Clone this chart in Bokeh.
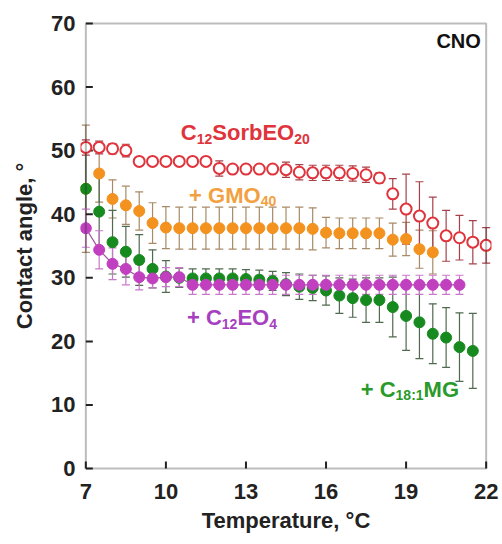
import math
from bokeh.plotting import figure
from bokeh.models import (Range1d, FixedTicker, ColumnDataSource, Whisker, TeeHead, Label,
                          BoxAnnotation)
from bokeh.embed import file_html
from bokeh.resources import INLINE

# ---------------- data ----------------
x_ticks = [7, 10, 13, 16, 19, 22]
y_ticks = [0, 10, 20, 30, 40, 50, 60, 70]

t_sorb = [7.0, 7.5, 8.0, 8.5, 9.0, 9.5, 10.0, 10.5, 11.0, 11.5, 12.0, 12.5, 13.0, 13.5, 14.0, 14.5,
          15.0, 15.5, 16.0, 16.5, 17.0, 17.5, 18.0, 18.5, 19.0, 19.5, 20.0, 20.5, 21.0, 21.5, 22.0]
ca_sorb = [50.5, 50.5, 50.3, 50.0, 48.3, 48.3, 48.3, 48.3, 48.3, 48.3, 47.2, 47.1, 47.1, 47.1, 47.1, 47.0,
           46.6, 46.5, 46.5, 46.5, 46.4, 46.2, 45.7, 43.2, 40.8, 39.7, 38.6, 36.6, 36.3, 35.6, 35.1]
err_sorb = [1.2, 1.0, 0.8, 1.0, 0.3, 0.3, 0.3, 0.3, 0.3, 0.3, 1.2, 0.4, 0.4, 0.4, 0.4, 1.2,
            1.2, 1.2, 1.2, 1.2, 1.2, 1.2, 0.8, 2.4, 5.5, 5.4, 4.1, 4.0, 3.5, 3.4, 2.8]

t_gmo = [7.0, 7.5, 8.0, 8.5, 9.0, 9.5, 10.0, 10.5, 11.0, 11.5, 12.0, 12.5, 13.0, 13.5,
         14.0, 14.5, 15.0, 15.5, 16.0, 16.5, 17.0, 17.5, 18.0, 18.5, 19.0, 19.5, 20.0]
ca_gmo = [44.0, 46.4, 42.4, 41.4, 40.5, 38.6, 37.9, 37.8, 37.8, 37.8, 37.8, 37.8, 37.8, 37.8,
          37.8, 37.8, 37.8, 37.7, 37.1, 37.0, 37.0, 37.0, 37.0, 36.0, 36.1, 34.5, 34.0]
err_gmo = [10.0, 4.5, 3.0, 3.0, 3.0, 3.2, 3.3, 3.3, 3.3, 3.3, 3.3, 3.3, 3.3, 3.3,
           3.3, 3.3, 3.3, 3.3, 2.4, 2.4, 2.4, 2.4, 2.4, 2.6, 2.6, 3.0, 3.4]

t_mg = [7.0, 7.5, 8.0, 8.5, 9.0, 9.5, 10.0, 10.5, 11.0, 11.5, 12.0, 12.5, 13.0, 13.5, 14.0,
        14.5, 15.0, 15.5, 16.0, 16.5, 17.0, 17.5, 18.0, 18.5, 19.0, 19.5, 20.0, 20.5, 21.0, 21.5]
ca_mg = [44.0, 40.4, 35.6, 34.1, 32.8, 31.4, 30.2, 30.0, 29.9, 29.9, 29.9, 29.9, 29.8, 29.7, 29.5,
         29.0, 28.6, 28.4, 28.0, 27.2, 26.8, 26.5, 26.5, 25.4, 24.0, 23.0, 21.2, 20.6, 19.1, 18.5]
err_mg = [6.0, 6.0, 5.0, 4.0, 4.0, 3.0, 2.5, 1.5, 1.5, 1.5, 1.5, 1.5, 1.5, 1.5, 1.5,
          1.8, 2.0, 2.0, 2.3, 2.8, 3.0, 3.5, 3.5, 4.7, 5.4, 5.7, 4.7, 4.7, 5.4, 5.9]

t_eo = [7.0, 7.5, 8.0, 8.5, 9.0, 9.5, 10.0, 10.5, 11.0, 11.5, 12.0, 12.5, 13.0, 13.5, 14.0,
        14.5, 15.0, 15.5, 16.0, 16.5, 17.0, 17.5, 18.0, 18.5, 19.0, 19.5, 20.0, 20.5, 21.0]
ca_eo = [37.8, 34.4, 32.2, 31.4, 30.1, 29.9, 30.1, 30.1, 28.9, 28.9, 28.9, 28.9, 28.9, 28.9, 28.9,
         28.9, 28.9, 28.9, 28.9, 28.9, 28.9, 28.9, 28.9, 28.9, 28.9, 28.9, 28.9, 28.9, 28.9]
err_eo = [3.0, 3.0, 2.5, 2.5, 2.0, 1.5, 1.5, 1.5, 1.5, 1.5, 1.5, 1.5, 1.5, 1.5, 1.5,
          1.5, 1.5, 1.5, 1.5, 1.5, 1.5, 1.5, 1.5, 1.5, 1.5, 1.5, 1.5, 1.5, 1.5]

x_title = "Temperature, °C"
y_title = "Contact angle, °"

FONT = "Liberation Sans"
INK = "#222222"

# ranges padded slightly so edge markers are not cut; the box is drawn at the data limits
p = figure(width=502, height=544, output_backend="svg", toolbar_location=None,
           x_range=Range1d(6.8, 22.2), y_range=Range1d(-0.3, 70.3),
           min_border_left=80, min_border_right=11, min_border_top=21, min_border_bottom=74)
p.grid.visible = False
p.outline_line_color = None
p.background_fill_color = "white"
p.border_fill_color = "white"

for ax in (p.xaxis[0], p.yaxis[0]):
    ax.axis_line_color = None
    ax.major_tick_line_color = None
    ax.minor_tick_line_color = None
    ax.major_tick_out = 0
    ax.major_tick_in = 0
    ax.minor_tick_out = 0
    ax.minor_tick_in = 0
    ax.major_label_text_font = FONT
    ax.major_label_text_font_style = "bold"
    ax.major_label_text_font_size = "22px"
    ax.major_label_text_color = INK
    ax.axis_label_text_font = FONT
    ax.axis_label_text_font_style = "bold"
    ax.axis_label_text_font_size = "22px"
    ax.axis_label_text_color = INK

p.xaxis.ticker = FixedTicker(ticks=x_ticks)
p.yaxis.ticker = FixedTicker(ticks=y_ticks)
p.xaxis.axis_label = x_title
p.yaxis.axis_label = y_title
p.xaxis.major_label_standoff = 13
p.xaxis.axis_label_standoff = 6
p.yaxis.major_label_standoff = 5
p.yaxis.axis_label_standoff = 11

# frame box and inward ticks
p.add_layout(BoxAnnotation(left=x_ticks[0], right=x_ticks[-1], bottom=y_ticks[0], top=y_ticks[-1],
                           fill_color=None, line_color=INK, line_width=2))
p.ray(x=[x_ticks[0]] * len(y_ticks), y=y_ticks, length=7, length_units="screen", angle=0,
      line_color=INK, line_width=2)
p.ray(x=x_ticks, y=[y_ticks[0]] * len(x_ticks), length=7, length_units="screen",
      angle=math.pi / 2, line_color=INK, line_width=2)


def series(t, v, e, color, err_color, fill, line=None):
    src = ColumnDataSource(dict(x=t, y=v,
                                lo=[a - b for a, b in zip(v, e)],
                                hi=[a + b for a, b in zip(v, e)]))
    w = Whisker(source=src, base="x", upper="hi", lower="lo", dimension="height",
                line_color=err_color, line_width=1.2,
                upper_head=TeeHead(size=8, line_color=err_color, line_width=1.2),
                lower_head=TeeHead(size=8, line_color=err_color, line_width=1.2))
    p.add_layout(w)
    if line:
        p.line("x", "y", source=src, line_color=line, line_width=1.2)
    p.scatter("x", "y", source=src, size=11, marker="circle",
              fill_color=fill, line_color=color, line_width=2 if fill == "white" else 1)


series(t_gmo, ca_gmo, err_gmo, "#f3921f", "#a88a66", "#f3921f")
series(t_mg, ca_mg, err_mg, "#178a1f", "#4f6a4f", "#178a1f")
series(t_eo, ca_eo, err_eo, "#c040c0", "#c878c8", "#c040c0", line="#a050a0")
series(t_sorb, ca_sorb, err_sorb, "#e0343c", "#a8404a", "white")

# ------------- rich labels with subscripts -------------
WID = {'C': 0.722, 'S': 0.667, 'o': 0.611, 'r': 0.389, 'b': 0.611, 'E': 0.667, 'O': 0.778,
       'M': 0.833, 'G': 0.778, 'N': 0.722, '+': 0.584, ' ': 0.278, ':': 0.333}
MAIN, SUB = 22, 14


def width(s, size):
    return sum(WID.get(ch, 0.556) for ch in s) * size


def rich(x, y, parts, color):
    off = 0.0
    for txt, sub in parts:
        size = SUB if sub else MAIN
        p.add_layout(Label(x=x, y=y, x_offset=off, y_offset=-6 if sub else 0, text=txt,
                           text_font=FONT, text_font_style="bold",
                           text_font_size=f"{size}px", text_color=color,
                           text_baseline="alphabetic", text_align="left"))
        off += width(txt, size)


rich(10.56, 52.8, [("C", False), ("12", True), ("SorbEO", False), ("20", True)], "#e0343c")
rich(10.87, 43.0, [("+ GMO", False), ("40", True)], "#f2a040")
rich(10.79, 23.7, [("+ C", False), ("12", True), ("EO", False), ("4", True)], "#a640c0")
rich(17.30, 12.5, [("+ C", False), ("18:1", True), ("MG", False)], "#2a9a2a")

p.add_layout(Label(x=21.8, y=67.3, text="CNO", text_font=FONT, text_font_style="bold",
                   text_font_size="20px", text_color="#111111", text_align="right",
                   text_baseline="alphabetic"))

open("out.html", "w").write(file_html(p, INLINE))
